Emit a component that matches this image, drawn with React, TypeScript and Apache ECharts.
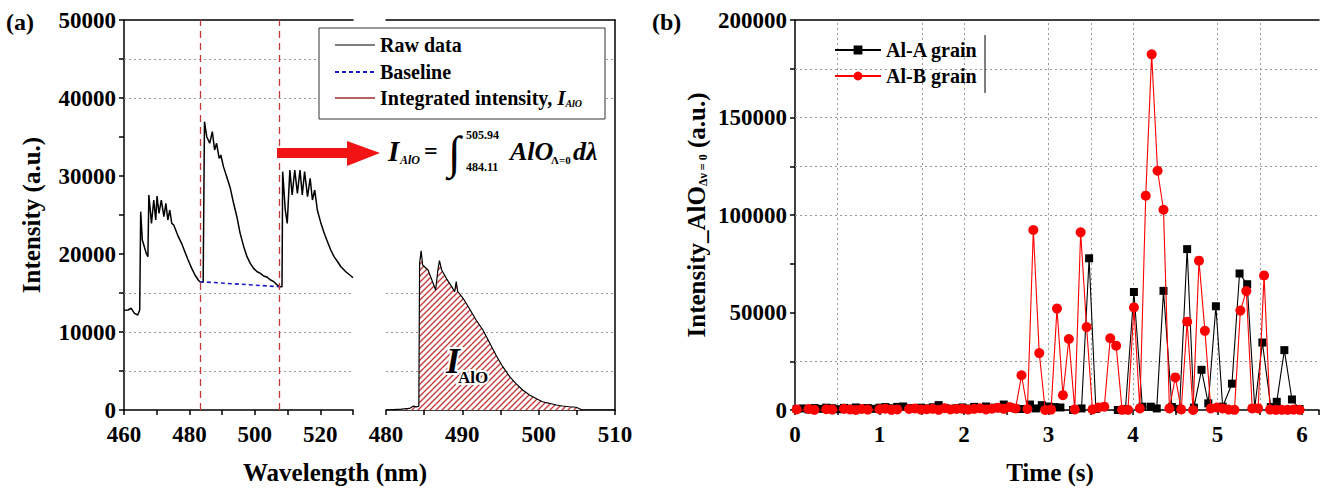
import React, { useEffect, useRef } from "react";
import * as echarts from "echarts";

const SERIF = '"Liberation Serif", "Times New Roman", "DejaVu Serif", serif';

// ---------- (a) emission spectrum ----------
const rawWavelength = [
  460.0, 461.2, 462.2, 463.2, 464.2, 464.8, 465.1, 465.6, 466.8, 467.3, 467.6, 468.4, 469.1, 469.7,
  470.1, 470.7, 471.4, 472.2, 472.8, 473.4, 474.0, 474.6, 475.2, 475.8, 476.6, 477.6, 478.6, 479.6,
  480.7, 481.7, 482.7, 483.2,
  484.2, 484.6, 485.3, 486.2, 487.0, 487.7, 488.3, 489.1, 489.6, 490.4, 491.4, 492.5, 493.5, 494.5,
  495.5, 496.6, 497.6, 498.6, 499.6, 500.7, 501.7, 502.7, 503.8, 504.8, 505.8, 506.8, 507.5,
  508.3, 508.5, 509.3, 509.9, 510.7, 511.4, 512.2, 513.0, 513.8, 514.5, 515.2, 516.1, 516.9, 517.6,
  518.3, 519.1, 520.2, 521.2, 522.2, 523.2, 524.2, 525.3, 526.3, 527.8, 529.4, 530.0,
];
const rawIntensity = [
  12800, 12820, 13040, 12390, 12180, 12820, 25430, 21800, 20090, 19660, 27560, 23930, 26920, 24360,
  27430, 25210, 26920, 24780, 26500, 24360, 25640, 23930, 23720, 23080, 22220, 21370, 20300, 19230,
  18160, 17310, 16670, 16450,
  16400, 36960, 35040, 34190, 35680, 33330, 34190, 32270, 32690, 31200, 29910, 28420, 26500, 24780,
  22650, 20940, 19660, 18800, 18160, 17730, 17520, 17180, 17010, 16670, 16450, 16030, 15810,
  15810, 30560, 25640, 23930, 30770, 27560, 30770, 27780, 30770, 27560, 30560, 27350, 29700, 26920,
  28200, 25640, 23930, 22650, 21580, 20510, 19660, 19010, 18370, 17730, 17180, 16950,
];
const baselineWavelength = [483.2, 507.5];
const baselineIntensity = [16450, 15810];
const windowEdges = [483.2, 507.5];

// Baseline-subtracted AlO band used for the integral
const bandWavelength = [
  480.0, 482.0, 483.1, 483.6, 484.0, 484.3, 484.4, 484.6, 484.8, 485.5, 486.1, 486.5, 486.8, 487.0,
  487.3, 487.9, 488.6, 489.0, 489.2, 489.4, 490.1, 490.9, 491.8, 492.7, 493.5, 494.4, 495.3, 496.2,
  497.0, 497.9, 498.8, 499.6, 500.5, 501.4, 502.3, 503.1, 504.0, 504.9, 505.5, 505.7, 510.0,
];
const bandIntensity = [
  0, 100, 200, 500, 400, 500, 18800, 20420, 18590, 17950, 16450, 15380, 17950, 19140,
  17950, 16880, 15810, 15170, 16450, 15170, 14320, 13040, 11540, 10260, 8760, 7050, 5550, 4270,
  3420, 2560, 1920, 1500, 1060, 860, 640, 510, 420, 350, 100, 0, 0,
];
const gridLinesA = [5000, 10000, 15000, 40000, 45000];

// ---------- (b) time traces ----------
const timeA = [
  0.02, 0.09, 0.16, 0.23, 0.30, 0.37, 0.44, 0.51, 0.58, 0.65, 0.72, 0.79, 0.86, 0.93, 1.00, 1.07,
  1.14, 1.21, 1.28, 1.35, 1.42, 1.49, 1.56, 1.63, 1.70, 1.77, 1.84, 1.91, 1.98, 2.05, 2.12, 2.19,
  2.26, 2.33, 2.40, 2.47, 2.54,
  2.61, 2.68, 2.78, 2.85, 2.92, 3.00, 3.07, 3.14, 3.21, 3.29, 3.39, 3.48, 3.56, 3.65, 3.74, 3.82,
  3.91, 4.01, 4.11, 4.21, 4.28, 4.36, 4.46, 4.55, 4.64, 4.72, 4.81, 4.89, 4.98, 5.06, 5.17, 5.26,
  5.35, 5.44, 5.53, 5.63, 5.70, 5.79, 5.88, 5.97,
];
const grainA = [
  500, 800, 300, 1000, 600, 1200, 900, 400, 1100, 700, 1300, 800, 1000, 600, 1200, 1500,
  900, 1600, 1800, 1000, 700, 1200, 800, 1400, 2500, 1100, 600, 900, 1300, 700, 1600, 1000,
  1800, 1200, 900, 2800, 1500,
  700, 500, 2800, 800, 2500, 1800, 1500, 1300, -700, 0, 800, 77800, 500, -300, -800, 0,
  500, 60500, 1700, 1700, 800, 61100, 1500, 600, 82500, 1200, 20600, 3400, 53200, 1700, 13500, 70000,
  64500, 1000, 34600, 1500, 4200, 30700, 5400, 500,
];
const timeB = [
  0.02, 0.09, 0.16, 0.23, 0.30, 0.37, 0.44, 0.51, 0.58, 0.65, 0.72, 0.79, 0.86, 0.93, 1.00, 1.07,
  1.14, 1.21, 1.28, 1.35, 1.42, 1.49, 1.56, 1.63, 1.70, 1.77, 1.84, 1.91, 1.98, 2.05, 2.12, 2.19,
  2.26, 2.33, 2.40, 2.47, 2.54, 2.61, 2.68, 2.75, 2.82, 2.89, 2.96, 3.03, 3.10, 3.17, 3.24, 3.31,
  3.38, 3.45, 3.52, 3.59, 3.66, 3.73, 3.80, 3.87, 3.94, 4.01, 4.08, 4.15, 4.22, 4.29, 4.36, 4.43,
  4.50, 4.57, 4.64, 4.71, 4.78, 4.85, 4.92, 4.99, 5.06, 5.13, 5.20, 5.27, 5.34, 5.41, 5.48, 5.55,
  5.62, 5.69, 5.76, 5.83, 5.90, 5.97,
];
const grainB = [
  300, -200, 500, 100, -300, 400, 200, -100, 600, 300, 0, 500, 200, -200, 400, 700,
  100, 300, -100, 500, 800, 200, 400, 600, 100, 900, 300, 500, 700, 200, 600, 900,
  300, 700, 1200, 600, 1500, 800, 17800, 500, 92300, 29200, 0, 200, 52000, 7600, 36400, 300,
  91100, 42500, 300, 1300, 1700, 36800, 33000, 100, 100, 52600, 800, 109900, 182400, 122700, 102700, 800,
  16700, 300, 45300, 0, 76600, 40600, 800, 1300, 800, 200, 100, 51000, 61000, 800, 800, 69000,
  200, 100, 100, 100, 200, 100,
];
const gridLinesBx = [0.5, 1.5, 2, 3, 3.5, 4, 5, 5.5];
const gridLinesBy = [25000, 100000, 125000, 150000, 175000];

const zip = (xs: number[], ys: number[]) => xs.map((x, i) => [x, ys[i]]);

const BLACK = "#000";
const axisLine = { show: true, onZero: false, lineStyle: { color: BLACK, width: 1.5 } };
const axisTick = { show: true, length: 5, lineStyle: { color: BLACK, width: 1.5 } };
const tickFont = { fontFamily: SERIF, fontWeight: "bold" as const, fontSize: 23, color: BLACK };
const gridLineStyle = { color: "#9a9a9a", width: 1, type: [2, 3] as number[] };

function frameAxis(gridIndex: number, min: number, max: number, position: string) {
  return {
    type: "value",
    gridIndex,
    min,
    max,
    position,
    axisLine,
    axisTick: { show: false },
    axisLabel: { show: false },
    splitLine: { show: false },
  };
}

function guideSeries(xAxisIndex: number, yAxisIndex: number, data: object[]) {
  return {
    type: "line",
    xAxisIndex,
    yAxisIndex,
    data: [],
    silent: true,
    markLine: {
      silent: true,
      symbol: "none",
      z: 1,
      label: { show: false },
      lineStyle: gridLineStyle,
      data,
    },
  };
}

function makeHatch(): HTMLCanvasElement {
  const size = 6;
  const c = document.createElement("canvas");
  c.width = size;
  c.height = size;
  const ctx = c.getContext("2d")!;
  ctx.fillStyle = "#ffffff";
  ctx.fillRect(0, 0, size, size);
  ctx.strokeStyle = "#c63c3c";
  ctx.lineWidth = 1.4;
  ctx.beginPath();
  ctx.moveTo(-1, size + 1);
  ctx.lineTo(size + 1, -1);
  ctx.moveTo(-1, 1);
  ctx.lineTo(1, -1);
  ctx.moveTo(size - 1, size + 1);
  ctx.lineTo(size + 1, size - 1);
  ctx.stroke();
  return c;
}

function txt(x: number, y: number, text: string, fontSize: number, extra: Record<string, unknown> = {}) {
  return {
    type: "text",
    x,
    y,
    z: 100,
    style: {
      text,
      fontFamily: SERIF,
      fontWeight: "bold",
      fontSize,
      fill: BLACK,
      align: "left",
      verticalAlign: "middle",
      ...extra,
    },
  };
}

function buildOption() {
  const hatch = makeHatch();
  return {
    animation: false,
    backgroundColor: "#fff",
    grid: [
      { left: 124, top: 20, width: 229, height: 390 },
      { left: 386, top: 20, width: 229, height: 390 },
      { left: 795, top: 20, width: 527, height: 390 },
    ],
    xAxis: [
      {
        type: "value",
        gridIndex: 0,
        min: 460,
        max: 530,
        interval: 10,
        position: "bottom",
        axisLine,
        axisTick,
        axisLabel: { ...tickFont, margin: 13, formatter: (v: number) => (v % 20 === 0 ? String(v) : "") },
        splitLine: { show: false },
      },
      frameAxis(0, 460, 530, "top"),
      {
        type: "value",
        gridIndex: 1,
        min: 480,
        max: 510,
        interval: 5,
        position: "bottom",
        axisLine,
        axisTick,
        axisLabel: { ...tickFont, margin: 13, formatter: (v: number) => (v % 10 === 0 ? String(v) : "") },
        splitLine: { show: false },
      },
      frameAxis(1, 480, 510, "top"),
      {
        type: "value",
        gridIndex: 2,
        min: 0,
        max: 6.2,
        interval: 0.5,
        position: "bottom",
        axisLine,
        axisTick,
        axisLabel: { ...tickFont, margin: 13, formatter: (v: number) => (Number.isInteger(v) ? String(v) : "") },
        splitLine: { show: false },
      },
      frameAxis(2, 0, 6.2, "top"),
    ],
    yAxis: [
      {
        type: "value",
        gridIndex: 0,
        min: 0,
        max: 50000,
        interval: 5000,
        axisLine,
        axisTick,
        axisLabel: { ...tickFont, margin: 8, formatter: (v: number) => (v % 10000 === 0 ? String(v) : "") },
        splitLine: { show: false },
        name: "Intensity (a.u.)",
        nameLocation: "middle",
        nameGap: 80,
        nameTextStyle: { fontFamily: SERIF, fontWeight: "bold", fontSize: 25, color: BLACK },
      },
      frameAxis(1, 0, 50000, "right"),
      {
        type: "value",
        gridIndex: 2,
        min: 0,
        max: 200000,
        interval: 25000,
        axisLine,
        axisTick,
        axisLabel: { ...tickFont, margin: 8, formatter: (v: number) => (v % 50000 === 0 ? String(v) : "") },
        splitLine: { show: false },
        name: "{m|Intensity_AlO}{s|Δν = 0}{m| (a.u.)}",
        nameLocation: "middle",
        nameGap: 86,
        nameTextStyle: {
          fontFamily: SERIF,
          fontWeight: "bold",
          fontSize: 25,
          color: BLACK,
          rich: {
            m: { fontFamily: SERIF, fontWeight: "bold", fontSize: 25, color: BLACK },
            s: { fontFamily: SERIF, fontWeight: "bold", fontSize: 12, color: BLACK, verticalAlign: "bottom" },
          },
        },
      },
    ],
    legend: {
      data: ["Al-A grain", "Al-B grain"],
      orient: "vertical",
      left: 834,
      top: 40,
      padding: 0,
      itemWidth: 46,
      itemHeight: 11,
      itemGap: 6,
      textStyle: { fontFamily: SERIF, fontWeight: "bold", fontSize: 20, color: BLACK },
    },
    series: [
      guideSeries(0, 0, gridLinesA.map((v) => ({ yAxis: v }))),
      guideSeries(2, 1, gridLinesA.map((v) => ({ yAxis: v }))),
      guideSeries(
        4,
        2,
        [...gridLinesBx.map((v) => ({ xAxis: v })), ...gridLinesBy.map((v) => ({ yAxis: v }))]
      ),
      {
        name: "Raw data",
        type: "line",
        xAxisIndex: 0,
        yAxisIndex: 0,
        data: zip(rawWavelength, rawIntensity),
        showSymbol: false,
        lineStyle: { color: BLACK, width: 1.5 },
        itemStyle: { color: BLACK },
        z: 3,
        markLine: {
          silent: true,
          symbol: "none",
          label: { show: false },
          lineStyle: { color: "#c83a3a", width: 1.3, type: [7, 5] },
          data: windowEdges.map((v) => ({ xAxis: v })),
        },
      },
      {
        name: "Baseline",
        type: "line",
        xAxisIndex: 0,
        yAxisIndex: 0,
        data: zip(baselineWavelength, baselineIntensity),
        showSymbol: false,
        lineStyle: { color: "#1c1cc8", width: 1.6, type: [4, 3] },
        z: 4,
      },
      {
        name: "Integrated intensity",
        type: "line",
        xAxisIndex: 2,
        yAxisIndex: 1,
        data: zip(bandWavelength, bandIntensity),
        showSymbol: false,
        lineStyle: { color: BLACK, width: 1.2 },
        areaStyle: {
          opacity: 1,
          color: { image: hatch, repeat: "repeat", imageWidth: 6, imageHeight: 6 },
        },
        z: 3,
      },
      {
        name: "Al-A grain",
        type: "line",
        xAxisIndex: 4,
        yAxisIndex: 2,
        data: zip(timeA, grainA),
        symbol: "rect",
        symbolSize: 8,
        lineStyle: { color: BLACK, width: 1.1 },
        itemStyle: { color: BLACK },
        z: 3,
      },
      {
        name: "Al-B grain",
        type: "line",
        xAxisIndex: 4,
        yAxisIndex: 2,
        data: zip(timeB, grainB),
        symbol: "circle",
        symbolSize: 10,
        lineStyle: { color: "#ff0000", width: 1.1 },
        itemStyle: { color: "#ff0000" },
        z: 4,
      },
    ],
    graphic: [
      txt(6, 22, "(a)", 24),
      txt(652, 22, "(b)", 24),
      txt(335, 472, "Wavelength (nm)", 25, { align: "center" }),
      txt(1050, 472, "Time (s)", 25, { align: "center" }),
      // legend of panel (a)
      {
        type: "rect",
        z: 100,
        shape: { x: 319, y: 28, width: 286, height: 91 },
        style: { fill: "#fff", stroke: "#333", lineWidth: 1 },
      },
      { type: "line", z: 101, shape: { x1: 335, y1: 45, x2: 375, y2: 45 }, style: { stroke: BLACK, lineWidth: 1.2 } },
      {
        type: "line",
        z: 101,
        shape: { x1: 335, y1: 72, x2: 375, y2: 72 },
        style: { stroke: "#1c1cc8", lineWidth: 1.8, lineDash: [4, 3] },
      },
      { type: "line", z: 101, shape: { x1: 335, y1: 98, x2: 375, y2: 98 }, style: { stroke: "#9e2e2e", lineWidth: 1.6 } },
      { ...txt(380, 45, "Raw data", 20), z: 101 },
      { ...txt(380, 72, "Baseline", 20), z: 101 },
      {
        ...txt(380, 98, "", 20),
        z: 101,
        style: {
          text: "{n|Integrated intensity, }{i|I}{s|AlO}",
          align: "left",
          verticalAlign: "middle",
          rich: {
            n: { fontFamily: SERIF, fontWeight: "bold", fontSize: 20, fill: BLACK },
            i: { fontFamily: SERIF, fontWeight: "bold", fontStyle: "italic", fontSize: 21, fill: BLACK },
            s: {
              fontFamily: SERIF,
              fontWeight: "bold",
              fontStyle: "italic",
              fontSize: 10,
              fill: BLACK,
              verticalAlign: "bottom",
            },
          },
        },
      },
      // arrow towards the integral
      {
        type: "polygon",
        z: 100,
        shape: {
          points: [
            [277, 148],
            [347, 148],
            [347, 141],
            [380, 153],
            [347, 166],
            [347, 158],
            [277, 158],
          ],
        },
        style: { fill: "#f21414" },
      },
      // integral expression
      txt(388, 151, "I", 29, { fontStyle: "italic" }),
      txt(400, 160, "AlO", 12, { fontStyle: "italic" }),
      txt(424, 151, "=", 24),
      txt(448, 152, "∫", 46, { fontWeight: "normal" }),
      txt(466, 135, "505.94", 12),
      txt(466, 167, "484.11", 12),
      txt(510, 151, "AlO", 26, { fontStyle: "italic" }),
      txt(551, 160, "Λ=0", 11),
      txt(573, 151, "dλ", 26, { fontStyle: "italic" }),
      // label inside the hatched band
      txt(446, 361, "I", 36, { fontStyle: "italic", stroke: "#fff", lineWidth: 4 }),
      txt(458, 377, "AlO", 17, { stroke: "#fff", lineWidth: 4 }),
      // right edge of the panel (b) legend
      { type: "line", z: 100, shape: { x1: 985, y1: 35, x2: 985, y2: 93 }, style: { stroke: BLACK, lineWidth: 1 } },
    ],
  };
}

export default function App() {
  const ref = useRef<HTMLDivElement>(null);
  useEffect(() => {
    if (!ref.current) return;
    const chart = echarts.init(ref.current, null, { renderer: "svg" });
    chart.setOption(buildOption() as any);
    return () => chart.dispose();
  }, []);
  return (
    <div
      ref={ref}
      style={{ position: "absolute", left: 0, top: 0, width: 1322, height: 494, background: "#fff" }}
    />
  );
}
